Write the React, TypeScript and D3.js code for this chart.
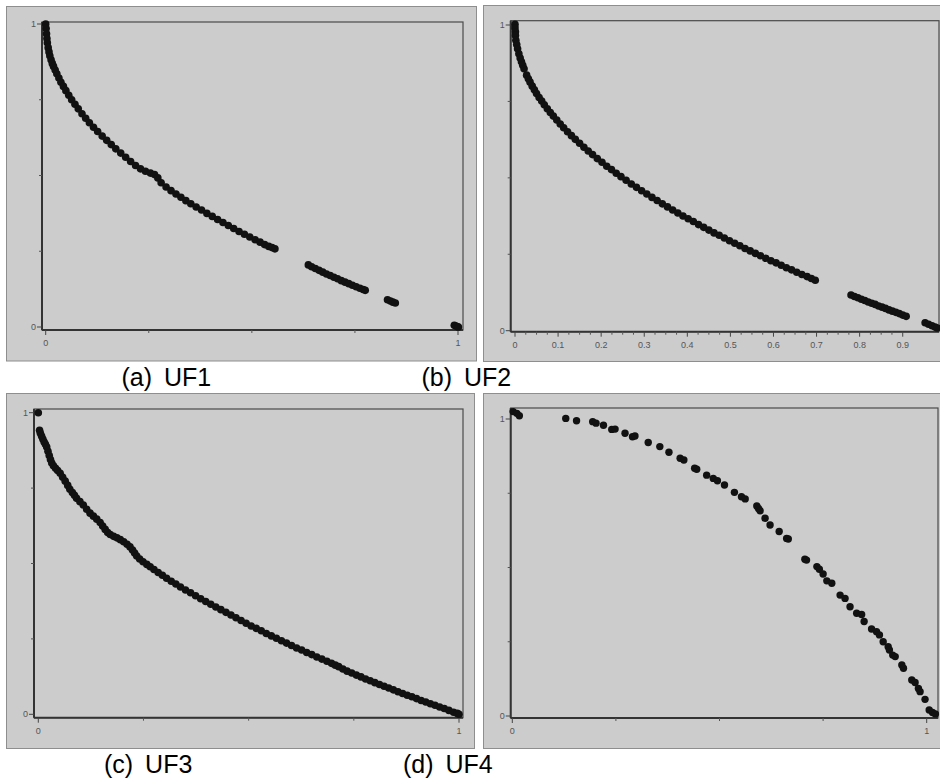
import React from 'react';
import * as d3 from 'd3';

type Pt = [number, number];

// (a) UF1
const uf1Points: Pt[] = [
  [0.0, 1.0], [0.001, 0.985], [0.002, 0.968], [0.003, 0.952], [0.004, 0.938], [0.006, 0.922],
  [0.008, 0.908], [0.01, 0.895], [0.013, 0.882], [0.016, 0.87], [0.019, 0.86], [0.023, 0.848],
  [0.027, 0.836], [0.032, 0.822], [0.037, 0.808], [0.043, 0.794], [0.049, 0.78], [0.056, 0.765],
  [0.063, 0.75], [0.071, 0.735], [0.079, 0.72], [0.088, 0.704], [0.097, 0.689], [0.106, 0.674],
  [0.116, 0.659], [0.126, 0.645], [0.137, 0.63], [0.148, 0.616], [0.159, 0.602], [0.17, 0.588],
  [0.182, 0.574], [0.194, 0.56], [0.206, 0.546], [0.218, 0.533], [0.23, 0.522], [0.242, 0.514],
  [0.254, 0.508], [0.264, 0.503], [0.272, 0.492], [0.28, 0.476], [0.292, 0.462], [0.304, 0.45],
  [0.316, 0.439], [0.328, 0.428], [0.34, 0.417], [0.352, 0.407], [0.365, 0.396], [0.378, 0.386],
  [0.391, 0.375], [0.404, 0.365], [0.417, 0.355], [0.43, 0.345], [0.443, 0.335], [0.456, 0.325],
  [0.469, 0.315], [0.482, 0.306], [0.495, 0.297], [0.508, 0.288], [0.52, 0.28], [0.531, 0.272],
  [0.541, 0.266], [0.549, 0.262], [0.556, 0.258],
  [0.637, 0.205], [0.645, 0.199], [0.654, 0.193], [0.663, 0.187], [0.672, 0.181], [0.681, 0.175],
  [0.69, 0.17], [0.699, 0.164], [0.708, 0.159], [0.717, 0.153], [0.726, 0.148], [0.735, 0.143],
  [0.744, 0.138], [0.753, 0.133], [0.762, 0.128], [0.77, 0.124], [0.775, 0.121],
  [0.829, 0.09], [0.836, 0.086], [0.842, 0.082], [0.848, 0.079],
  [0.991, 0.006], [0.995, 0.003], [0.999, 0.001], [1.001, 0.0],
];

// (b) UF2
const uf2Points: Pt[] = [
  [0.0, 1.002], [0.0, 0.99], [0.001, 0.978], [0.001, 0.966],
  [0.002, 0.95], [0.004, 0.936], [0.006, 0.922], [0.009, 0.906], [0.012, 0.892], [0.015, 0.88],
  [0.018, 0.868], [0.021, 0.857],
  [0.027, 0.836], [0.031, 0.824], [0.035, 0.813], [0.04, 0.8], [0.045, 0.788], [0.05, 0.776],
  [0.056, 0.763], [0.062, 0.751], [0.068, 0.739], [0.075, 0.726], [0.082, 0.714], [0.089, 0.702],
  [0.097, 0.689], [0.105, 0.676], [0.113, 0.664], [0.122, 0.651], [0.131, 0.638], [0.14, 0.626],
  [0.15, 0.613], [0.16, 0.6], [0.17, 0.588], [0.18, 0.576], [0.191, 0.563], [0.202, 0.551],
  [0.213, 0.538], [0.224, 0.527], [0.235, 0.515], [0.246, 0.504], [0.258, 0.492], [0.27, 0.48],
  [0.282, 0.469], [0.294, 0.458], [0.306, 0.447], [0.318, 0.436], [0.33, 0.426], [0.342, 0.415],
  [0.354, 0.405], [0.366, 0.395], [0.378, 0.385], [0.39, 0.375], [0.402, 0.366], [0.414, 0.357],
  [0.426, 0.347], [0.438, 0.338], [0.45, 0.329], [0.462, 0.32], [0.474, 0.312], [0.486, 0.303],
  [0.498, 0.294], [0.51, 0.286], [0.522, 0.278], [0.534, 0.269], [0.546, 0.261], [0.558, 0.253],
  [0.57, 0.245], [0.582, 0.237], [0.594, 0.229], [0.606, 0.222], [0.618, 0.214], [0.63, 0.206],
  [0.642, 0.199], [0.654, 0.191], [0.666, 0.184], [0.678, 0.177], [0.688, 0.171], [0.697, 0.165],
  [0.78, 0.117], [0.788, 0.112], [0.796, 0.108], [0.804, 0.103], [0.812, 0.099], [0.82, 0.094],
  [0.828, 0.09], [0.836, 0.086], [0.844, 0.081], [0.852, 0.077], [0.86, 0.073], [0.868, 0.068],
  [0.876, 0.064], [0.884, 0.06], [0.892, 0.056], [0.9, 0.051], [0.908, 0.047],
  [0.952, 0.026], [0.96, 0.021], [0.968, 0.016], [0.975, 0.012], [0.98, 0.009],
];

// (c) UF3
const uf3Points: Pt[] = [
  [0.0, 1.0],
  [0.003, 0.942], [0.005, 0.932], [0.008, 0.922], [0.011, 0.912], [0.014, 0.903], [0.017, 0.895],
  [0.02, 0.886], [0.023, 0.872], [0.026, 0.858], [0.029, 0.845], [0.032, 0.833], [0.036, 0.824],
  [0.041, 0.816], [0.046, 0.808], [0.052, 0.799], [0.058, 0.786], [0.064, 0.773], [0.07, 0.759],
  [0.075, 0.746], [0.081, 0.735], [0.086, 0.726], [0.091, 0.716], [0.099, 0.705], [0.107, 0.694],
  [0.115, 0.68], [0.123, 0.667], [0.131, 0.657], [0.139, 0.647], [0.147, 0.636], [0.153, 0.624],
  [0.159, 0.613], [0.165, 0.603], [0.171, 0.596], [0.179, 0.59], [0.187, 0.585], [0.195, 0.579],
  [0.203, 0.572], [0.211, 0.564], [0.218, 0.555], [0.224, 0.545], [0.229, 0.535], [0.234, 0.525],
  [0.241, 0.515], [0.249, 0.506], [0.258, 0.497], [0.266, 0.489], [0.275, 0.48], [0.285, 0.47],
  [0.295, 0.461], [0.305, 0.451], [0.316, 0.441], [0.327, 0.432], [0.338, 0.422], [0.35, 0.412],
  [0.362, 0.403], [0.374, 0.393], [0.386, 0.383], [0.398, 0.374], [0.41, 0.365], [0.422, 0.356],
  [0.434, 0.347], [0.446, 0.338], [0.458, 0.329], [0.47, 0.32], [0.482, 0.311], [0.494, 0.302],
  [0.506, 0.293], [0.518, 0.285], [0.53, 0.277], [0.542, 0.268], [0.554, 0.26], [0.566, 0.252],
  [0.578, 0.244], [0.59, 0.236], [0.602, 0.228], [0.614, 0.22], [0.626, 0.213], [0.638, 0.205],
  [0.65, 0.198], [0.662, 0.19], [0.674, 0.183], [0.686, 0.176], [0.697, 0.169], [0.706, 0.163],
  [0.714, 0.158],
  [0.724, 0.15], [0.734, 0.143], [0.745, 0.137], [0.756, 0.13], [0.767, 0.124], [0.778, 0.117],
  [0.789, 0.111], [0.8, 0.105], [0.811, 0.099], [0.822, 0.093], [0.833, 0.087], [0.844, 0.081],
  [0.855, 0.075], [0.866, 0.069], [0.877, 0.063], [0.888, 0.058], [0.899, 0.052], [0.91, 0.046],
  [0.921, 0.041], [0.932, 0.035], [0.943, 0.03], [0.954, 0.024], [0.965, 0.019], [0.976, 0.013],
  [0.987, 0.007], [0.996, 0.003], [1.0, 0.0],
];

// (d) UF4
const uf4Points: Pt[] = [
  [0.002, 1.025], [0.011, 1.019], [0.017, 1.011], [0.129, 1.002], [0.155, 0.994], [0.194, 0.991],
  [0.202, 0.986], [0.22, 0.979], [0.24, 0.965], [0.248, 0.966], [0.272, 0.952], [0.29, 0.94],
  [0.296, 0.943], [0.328, 0.921], [0.356, 0.907], [0.378, 0.888], [0.405, 0.868], [0.414, 0.862],
  [0.44, 0.834], [0.445, 0.831], [0.469, 0.811], [0.485, 0.8], [0.495, 0.792], [0.512, 0.778],
  [0.536, 0.753], [0.553, 0.738], [0.562, 0.731], [0.59, 0.707], [0.594, 0.699], [0.598, 0.691],
  [0.61, 0.666], [0.622, 0.643], [0.644, 0.621], [0.662, 0.598], [0.666, 0.596], [0.706, 0.528],
  [0.71, 0.525], [0.735, 0.503], [0.741, 0.494], [0.75, 0.478], [0.759, 0.455], [0.771, 0.447],
  [0.791, 0.407], [0.803, 0.396], [0.815, 0.368], [0.831, 0.346], [0.843, 0.342], [0.849, 0.318],
  [0.867, 0.293], [0.879, 0.284], [0.886, 0.273], [0.895, 0.25], [0.907, 0.233], [0.91, 0.222],
  [0.918, 0.205], [0.924, 0.2], [0.94, 0.172], [0.944, 0.161], [0.964, 0.121], [0.972, 0.113],
  [0.98, 0.093], [0.984, 0.082], [0.996, 0.056], [1.006, 0.02], [1.014, 0.012], [1.021, 0.007],
];

const captions = ['(a) UF1', '(b) UF2', '(c) UF3', '(d) UF4'];
const endTicks = [0, 1];
const endLabels = ['0', '1'];
const quarterTicks = [0.25, 0.5, 0.75];
const uf2Ticks = [0, 0.1, 0.2, 0.3, 0.4, 0.5, 0.6, 0.7, 0.8, 0.9];
const uf2Labels = ['0', '0.1', '0.2', '0.3', '0.4', '0.5', '0.6', '0.7', '0.8', '0.9'];
const uf2Minor = d3.range(0.025, 0.9, 0.025).filter((v) => Math.abs(v * 10 - Math.round(v * 10)) > 0.01);

interface Layout {
  frame: [number, number, number, number];
  plot: [number, number, number, number];
  xr: [number, number];
  yr: [number, number];
  cap: [number, number];
}

const layouts: Layout[] = [
  { frame: [6.5, 6.5, 470, 354.5], plot: [42, 22, 463, 330], xr: [45.7, 458], yr: [327, 24], cap: [121.5, 386] },
  { frame: [483.5, 5.5, 470, 356], plot: [510.7, 20.7, 939, 331.7], xr: [515, 945.8], yr: [330.7, 25], cap: [421.5, 386] },
  { frame: [6.5, 393.5, 468, 355], plot: [34, 409, 463, 717.7], xr: [38.3, 459], yr: [714.3, 412.7], cap: [104, 773] },
  { frame: [483.5, 393.5, 470, 355], plot: [510.7, 408, 938, 718], xr: [512.3, 926.7], yr: [716, 419], cap: [403, 773] },
];

const font = 'Arial, "Liberation Sans", sans-serif';

const Panel = ({ layout, points, xTicks, xLabels, xMinor, r, caption }: {
  layout: Layout; points: Pt[]; xTicks: number[]; xLabels: string[]; xMinor: number[]; r: number; caption: string;
}) => {
  const x = d3.scaleLinear().domain([0, 1]).range(layout.xr);
  const y = d3.scaleLinear().domain([0, 1]).range(layout.yr);
  const [l, t, rt, b] = layout.plot;
  const [fx, fy, fw, fh] = layout.frame;
  return (
    <g>
      <rect x={fx} y={fy} width={fw} height={fh} fill="#cccccc" stroke="#8e8e8e" strokeWidth={1} />
      <rect x={l} y={t} width={rt - l} height={b - t} fill="#cccccc" stroke="#4a4a4a" strokeWidth={1.2} />
      <line x1={l} y1={t} x2={l} y2={b} stroke="#333" strokeWidth={2} />
      <line x1={l} y1={b} x2={rt} y2={b} stroke="#333" strokeWidth={2} />
      {endTicks.map((v, i) => (
        <g key={`y${i}`}>
          <line x1={l - 5} x2={l} y1={y(v)} y2={y(v)} stroke="#444" />
          <text x={l - 6} y={y(v)} dy="0.35em" textAnchor="end" fontSize={9} fill="#555" fontFamily={font}>
            {endLabels[i]}
          </text>
        </g>
      ))}
      {quarterTicks.map((v) => (
        <line key={`yq${v}`} x1={l - 3} x2={l} y1={y(v)} y2={y(v)} stroke="#555" />
      ))}
      {xTicks.map((v, i) => (
        <g key={`x${i}`}>
          <line x1={x(v)} x2={x(v)} y1={b} y2={b + 5} stroke="#444" />
          <text x={x(v)} y={b + 16} textAnchor="middle" fontSize={9} fill="#555" fontFamily={font}>
            {xLabels[i]}
          </text>
        </g>
      ))}
      {xMinor.map((v) => (
        <line key={`xm${v}`} x1={x(v)} x2={x(v)} y1={b} y2={b + 3} stroke="#555" />
      ))}
      {points.map((p, i) => (
        <circle key={i} cx={x(p[0])} cy={y(p[1])} r={r} fill="#111" />
      ))}
      <text x={layout.cap[0]} y={layout.cap[1]} fontSize={25} fill="#000" fontFamily={font} wordSpacing={5}>
        {caption}
      </text>
    </g>
  );
};

export default function App() {
  return (
    <svg width={940} height={780} style={{ position: 'absolute', left: 0, top: 0, background: '#fff' }}>
      <Panel layout={layouts[0]} points={uf1Points} xTicks={endTicks} xLabels={endLabels} xMinor={quarterTicks} r={3.8} caption={captions[0]} />
      <Panel layout={layouts[1]} points={uf2Points} xTicks={uf2Ticks} xLabels={uf2Labels} xMinor={uf2Minor} r={3.8} caption={captions[1]} />
      <Panel layout={layouts[2]} points={uf3Points} xTicks={endTicks} xLabels={endLabels} xMinor={quarterTicks} r={3.8} caption={captions[2]} />
      <Panel layout={layouts[3]} points={uf4Points} xTicks={endTicks} xLabels={endLabels} xMinor={quarterTicks} r={3.7} caption={captions[3]} />
    </svg>
  );
}
